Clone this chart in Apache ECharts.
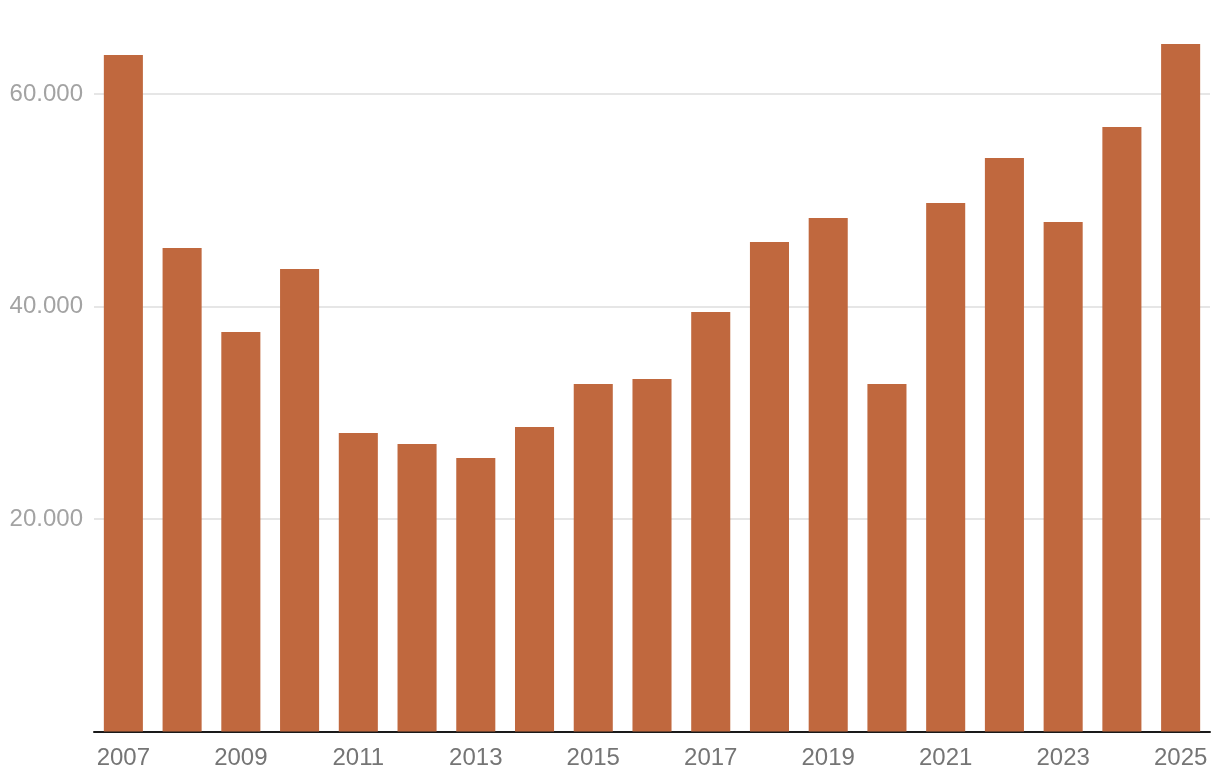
<!DOCTYPE html>
<html>
<head>
<meta charset="utf-8">
<script src="https://cdn.jsdelivr.net/npm/echarts@6/dist/echarts.min.js"></script>
<style>
html,body{margin:0;padding:0;background:#fff;}
#chart{width:1220px;height:784px;}
</style>
</head>
<body>
<div id="chart"></div>
<script>
const years = ['2007','2008','2009','2010','2011','2012','2013','2014','2015','2016','2017','2018','2019','2020','2021','2022','2023','2024','2025'];
const values = [63670, 45500, 37600, 43530, 28090, 27060, 25740, 28660, 32700, 33180, 39480, 46070, 48330, 32700, 49740, 53980, 47950, 56890, 64710];
const yTicks = [20000, 40000, 60000];

function fmt(v){
  return String(v).replace(/\B(?=(\d{3})+(?!\d))/g, '.');
}

const chart = echarts.init(document.getElementById('chart'), null, {renderer:'canvas'});
chart.setOption({
  animation:false,
  grid:{left:94, right:10, top:40.9, bottom:52.5, containLabel:false},
  xAxis:{
    type:'category',
    data:years,
    axisLine:{show:true, lineStyle:{color:'#1a1a1a', width:2}},
    axisTick:{show:false},
    axisLabel:{
      interval:1,
      color:'#757575',
      fontSize:24,
      fontFamily:'"Liberation Sans", Arial, Helvetica, sans-serif',
      margin:15
    }
  },
  yAxis:{
    type:'value',
    min:0,
    max:65000,
    interval:20000,
    axisLine:{show:false},
    axisTick:{show:false},
    splitLine:{show:true, showMinLine:false, showMaxLine:false, lineStyle:{color:'#e6e6e6', width:2}},
    axisLabel:{
      color:'#a3a3a3',
      fontSize:24,
      fontFamily:'"Liberation Sans", Arial, Helvetica, sans-serif',
      margin:11,
      showMinLabel:false,
      showMaxLabel:false,
      formatter:function(v){ return yTicks.indexOf(v) >= 0 ? fmt(v) : ''; }
    }
  },
  series:[{
    type:'bar',
    data:values,
    barWidth:'66.5%',
    itemStyle:{color:'#c0683e'}
  }]
});
</script>
</body>
</html>
